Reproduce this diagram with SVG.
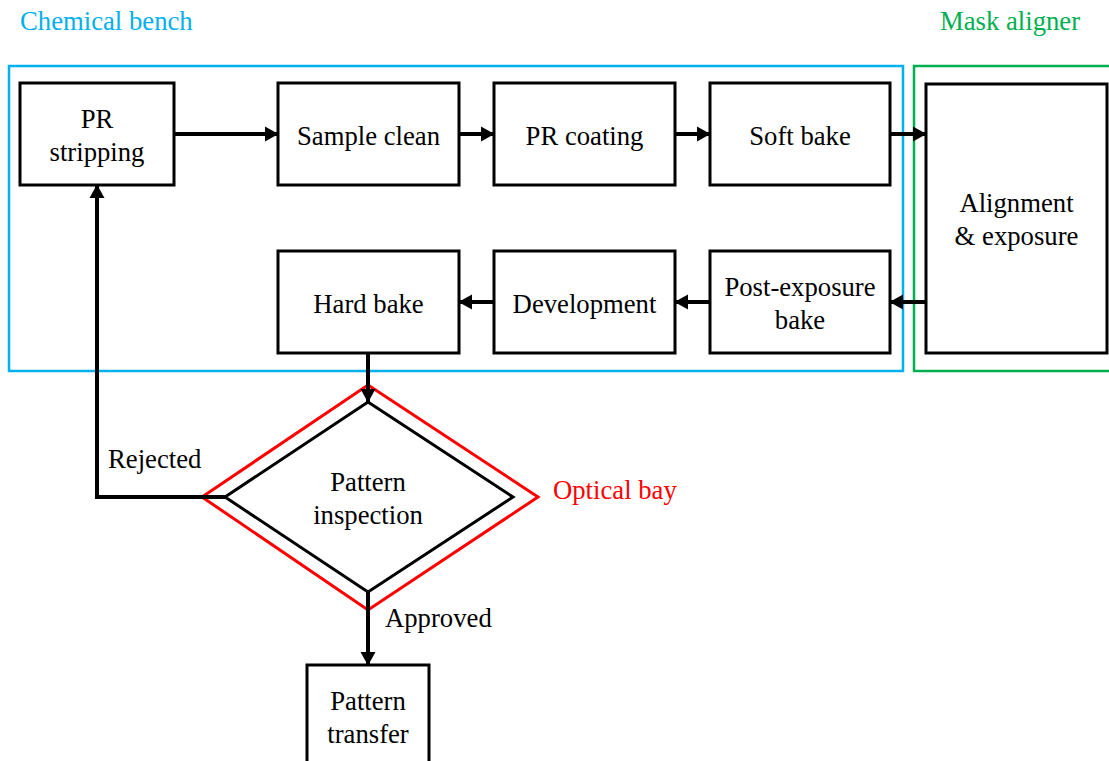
<svg xmlns="http://www.w3.org/2000/svg" width="1109" height="761" viewBox="0 0 1109 761">
<style>
text{font-family:"Liberation Serif","Times New Roman",serif;font-size:26.7px;fill:#000}
.box{fill:#fff;stroke:#000;stroke-width:3}
.c{text-anchor:middle}
.conn{fill:none;stroke:#000;stroke-width:4}
</style>
<defs>
<marker id="ah" markerUnits="userSpaceOnUse" markerWidth="15" markerHeight="16" refX="13" refY="8" orient="auto" viewBox="0 0 15 16">
<path d="M0,0.5 L13.5,8 L0,15.5 z" fill="#000"/>
</marker>
</defs>
<g id="groups">
<rect x="9" y="66" width="894" height="305" fill="none" stroke="#00B0F0" stroke-width="2.5"/>
<rect x="914" y="66" width="200" height="305" fill="none" stroke="#00B050" stroke-width="2.5"/>
<text x="20" y="30" style="fill:#00B0F0">Chemical bench</text>
<text x="940" y="30" style="fill:#00B050">Mask aligner</text>
<polygon points="368,385 538,497 368,610 202,497" fill="none" stroke="#FF0000" stroke-width="3"/>
<text x="553" y="499" style="fill:#FF0000">Optical bay</text>
</g>
<g id="connectors">
<line class="conn" x1="174" y1="134" x2="278" y2="134" marker-end="url(#ah)"/>
<line class="conn" x1="459" y1="134" x2="494" y2="134" marker-end="url(#ah)"/>
<line class="conn" x1="675" y1="134" x2="710" y2="134" marker-end="url(#ah)"/>
<line class="conn" x1="890" y1="134" x2="926" y2="134" marker-end="url(#ah)"/>
<line class="conn" x1="926" y1="302" x2="890" y2="302" marker-end="url(#ah)"/>
<line class="conn" x1="710" y1="302" x2="675" y2="302" marker-end="url(#ah)"/>
<line class="conn" x1="494" y1="302" x2="459" y2="302" marker-end="url(#ah)"/>
<line class="conn" x1="368" y1="353" x2="368" y2="402" marker-end="url(#ah)"/>
<polyline class="conn" points="225,497 97,497 97,185" marker-end="url(#ah)"/>
<line class="conn" x1="368" y1="592" x2="368" y2="665" marker-end="url(#ah)"/>
<text x="108" y="468">Rejected</text>
<text x="385" y="627">Approved</text>
</g>
<g id="pr-stripping"><rect class="box" x="20" y="83" width="154" height="102"/><text class="c" x="97" y="128">PR</text><text class="c" x="97" y="161">stripping</text></g>
<g id="sample-clean"><rect class="box" x="278" y="83" width="181" height="102"/><text class="c" x="368.5" y="145">Sample clean</text></g>
<g id="pr-coating"><rect class="box" x="494" y="83" width="181" height="102"/><text class="c" x="584.5" y="145">PR coating</text></g>
<g id="soft-bake"><rect class="box" x="710" y="83" width="180" height="102"/><text class="c" x="800" y="145">Soft bake</text></g>
<g id="alignment"><rect class="box" x="926" y="84" width="181" height="269"/><text class="c" x="1016.5" y="212">Alignment</text><text class="c" x="1016.5" y="245">&amp; exposure</text></g>
<g id="post-exposure"><rect class="box" x="710" y="251" width="180" height="102"/><text class="c" x="800" y="296">Post-exposure</text><text class="c" x="800" y="329">bake</text></g>
<g id="development"><rect class="box" x="494" y="251" width="181" height="102"/><text class="c" x="584.5" y="313">Development</text></g>
<g id="hard-bake"><rect class="box" x="278" y="251" width="181" height="102"/><text class="c" x="368.5" y="313">Hard bake</text></g>
<g id="pattern-inspection"><polygon points="368,402 513,497 368,592 225,497" fill="#fff" stroke="#000" stroke-width="3"/><text class="c" x="368" y="491">Pattern</text><text class="c" x="368" y="524">inspection</text></g>
<g id="pattern-transfer"><rect class="box" x="307" y="665" width="122" height="110"/><text class="c" x="368" y="710">Pattern</text><text class="c" x="368" y="743">transfer</text></g>
</svg>
